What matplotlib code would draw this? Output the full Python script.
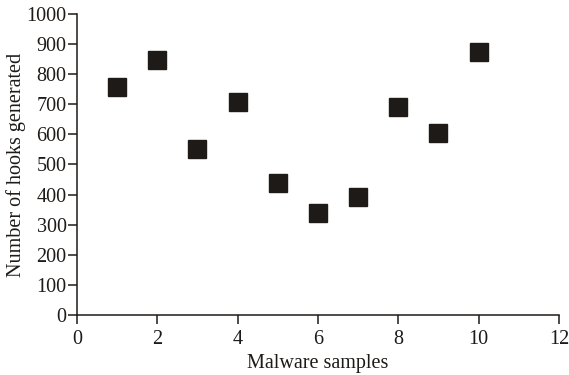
import matplotlib
matplotlib.use("Agg")
import matplotlib.pyplot as plt

plt.rcParams["font.family"] = ["Liberation Serif", "DejaVu Serif"]

# Data
samples = [1, 2, 3, 4, 5, 6, 7, 8, 9, 10]
hooks = [757, 847, 553, 707, 437, 340, 393, 690, 603, 873]
x_ticks = [0, 2, 4, 6, 8, 10, 12]
y_ticks = [0, 100, 200, 300, 400, 500, 600, 700, 800, 900, 1000]

fig = plt.figure(figsize=(5.69, 3.75), dpi=100)
ax = fig.add_axes([0.1353, 0.16, 0.847, 0.8027])

ax.plot(samples, hooks, linestyle="none", marker="s", markersize=13,
        color="#1e1a17", markeredgecolor="#1e1a17", clip_on=False)

ax.set_xlim(0, 12)
ax.set_ylim(0, 1000)
ax.set_xticks(x_ticks)
ax.set_yticks(y_ticks)

for side in ["top", "right"]:
    ax.spines[side].set_visible(False)
for side in ["left", "bottom"]:
    ax.spines[side].set_linewidth(1.1)
    ax.spines[side].set_color("#1e1a17")

ax.tick_params(direction="out", length=6.5, width=1.1, labelsize=14.5,
               colors="#1e1a17", pad=1)
ax.tick_params(axis="x", pad=4)

ax.set_xlabel("Malware samples", fontsize=14.5, color="#1e1a17", labelpad=4)
ax.set_ylabel("Number of hooks generated", fontsize=14.5, color="#1e1a17", labelpad=0)

fig.savefig("out.png", dpi=100)
